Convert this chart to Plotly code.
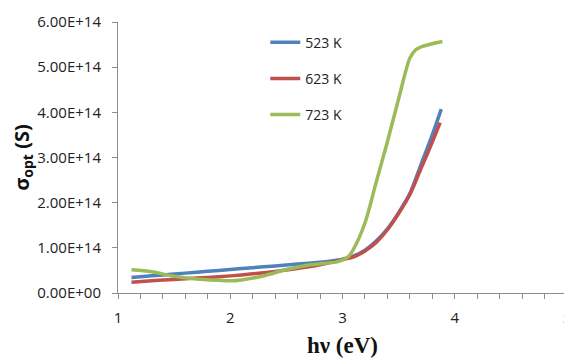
import plotly.graph_objects as go

x_523 = [1.12, 1.3, 1.5, 1.7, 1.9, 2.1, 2.3, 2.5, 2.7, 2.9, 3.0, 3.1, 3.2, 3.3, 3.4, 3.5, 3.6, 3.7, 3.8, 3.88]
y_523 = [0.345, 0.38, 0.42, 0.46, 0.50, 0.54, 0.58, 0.62, 0.66, 0.71, 0.75, 0.82, 0.95, 1.15, 1.42, 1.78, 2.2, 2.85, 3.5, 4.07]

x_623 = [1.12, 1.3, 1.5, 1.7, 1.9, 2.1, 2.3, 2.5, 2.7, 2.9, 3.0, 3.1, 3.2, 3.3, 3.4, 3.5, 3.6, 3.7, 3.8, 3.87]
y_623 = [0.24, 0.27, 0.30, 0.33, 0.36, 0.40, 0.45, 0.51, 0.58, 0.68, 0.74, 0.80, 0.93, 1.12, 1.40, 1.76, 2.18, 2.76, 3.34, 3.77]

x_723 = [1.12, 1.3, 1.5, 1.7, 1.9, 2.0, 2.1, 2.3, 2.5, 2.7, 2.85, 2.95, 3.05, 3.1, 3.2, 3.3, 3.4, 3.5, 3.6, 3.65, 3.7, 3.8, 3.89]
y_723 = [0.515, 0.47, 0.37, 0.31, 0.28, 0.27, 0.29, 0.38, 0.52, 0.62, 0.66, 0.69, 0.80, 0.98, 1.55, 2.45, 3.35, 4.3, 5.2, 5.38, 5.45, 5.52, 5.57]

scale = 1e14
y_tick_vals = [0, 1, 2, 3, 4, 5, 6]
y_tick_text = ["0.00E+00", "1.00E+14", "2.00E+14", "3.00E+14", "4.00E+14", "5.00E+14", "6.00E+14"]
x_tick_vals = [1, 2, 3, 4, 5]

series = [
    ("523 K", x_523, y_523, "#4F81BD"),
    ("623 K", x_623, y_623, "#C0504D"),
    ("723 K", x_723, y_723, "#9BBB59"),
]

fig = go.Figure()
for i, (name, xs, ys, color) in enumerate(series):
    fig.add_trace(go.Scatter(
        x=xs, y=[v * scale for v in ys], mode="lines", name=name,
        line=dict(color=color, width=3.5, shape="spline", smoothing=0.8),
        legendgroup=f"g{i}",
    ))

axis_color = "#8C8C8C"
tick_font = dict(family="Open Sans, Liberation Sans, sans-serif", size=15, color="#222222")

fig.update_layout(
    width=564, height=350,
    margin=dict(l=110, r=5, t=14, b=65),
    paper_bgcolor="white", plot_bgcolor="white",
    showlegend=True,
    legend=dict(x=0.328, y=0.983, xanchor="left", yanchor="top",
                font=dict(family="Open Sans, Liberation Sans, sans-serif", size=14, color="#222222"),
                tracegroupgap=15, bgcolor="rgba(0,0,0,0)"),
    xaxis=dict(range=[1, 5], tickvals=x_tick_vals, ticks="outside", ticklen=5,
               tickcolor=axis_color, showline=True, linecolor=axis_color, linewidth=1,
               showgrid=False, zeroline=False, tickfont=tick_font, automargin=False,
               ticklabelstandoff=6, ticklabeloverflow="allow",
               minor=dict(dtick=0.2, ticks="outside", ticklen=5, tickcolor=axis_color, showgrid=False),
               title=dict(text="<b>hν (eV)</b>",
                          font=dict(family="Liberation Serif, Times New Roman, serif", size=23, color="#111111"),
                          standoff=12)),
    yaxis=dict(range=[0, 6 * scale], tickvals=[v * scale for v in y_tick_vals], ticktext=y_tick_text,
               ticks="outside", ticklen=5, tickcolor=axis_color, showline=True, linecolor=axis_color,
               linewidth=1, showgrid=False, zeroline=False, tickfont=tick_font, automargin=False,
               ticklabelstandoff=8,
               title=dict(text="<b>σ<sub>opt</sub> (S)</b>",
                          font=dict(family="Open Sans, Liberation Sans, sans-serif", size=20, color="#111111"),
                          standoff=20)),
)

fig.write_html("out.html")
